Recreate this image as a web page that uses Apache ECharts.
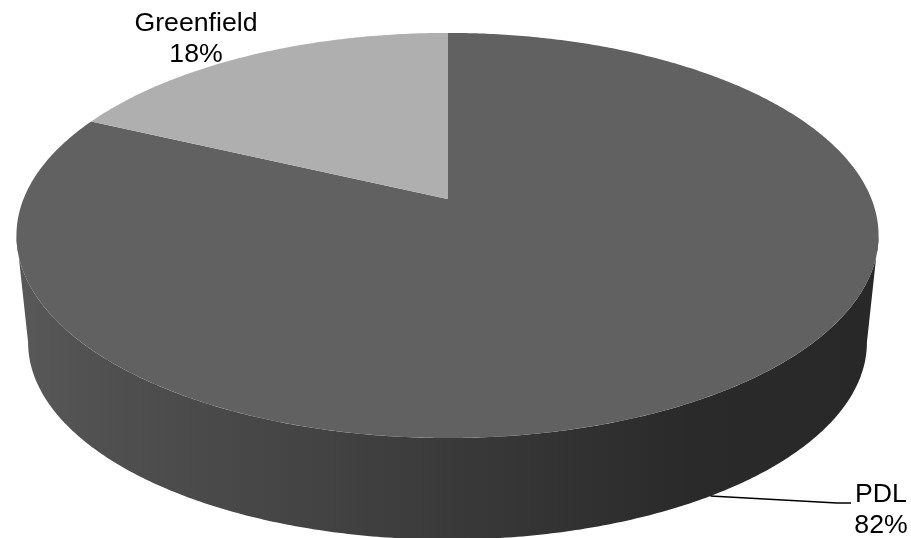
<!DOCTYPE html>
<html>
<head>
<meta charset="utf-8">
<style>html,body{margin:0;padding:0;background:#fff}#c{width:911px;height:538px}</style>
<script src="https://cdn.jsdelivr.net/npm/echarts@6/dist/echarts.min.js"></script>
</head>
<body>
<div id="c"></div>
<script>
const categories = ['PDL', 'Greenfield'];
const shares = [82, 18];
const topColors = ['#616161', '#afafaf'];

const total = shares.reduce((a, b) => a + b, 0);
const cx = 447.5, apexY = 199, A = 424, B = 196, K = 0.18;
const bottomApexY = 307, bottomScale = 0.973;
const TAU = Math.PI * 2;

// theta: clockwise from 12 o'clock, on the pie's own circle, seen in perspective
function project(theta, y0, s) {
  const u = Math.sin(theta), v = -Math.cos(theta), w = 1 - K * v;
  return [cx + s * A * u / w, y0 + s * B * v / w];
}
const rimTop = t => project(t, apexY, 1);
const rimBottom = t => project(t, bottomApexY, bottomScale);
function arc(fn, a, b) {
  const n = Math.max(2, Math.ceil(Math.abs(b - a) / 0.01)), pts = [];
  for (let i = 0; i <= n; i++) pts.push(fn(a + (b - a) * i / n));
  return pts;
}
// the rim turns out of sight where the ellipse is widest
const visFrom = Math.acos(-0.18), visTo = TAU - visFrom;
const sideFill = {
  type: 'linear', x: 16, y: 0, x2: 879, y2: 0, global: true,
  colorStops: [
    { offset: 0, color: '#595959' }, { offset: 0.1, color: '#505050' },
    { offset: 0.33, color: '#444444' }, { offset: 0.55, color: '#373737' },
    { offset: 0.78, color: '#2a2a2a' }, { offset: 1, color: '#282828' }
  ]
};
const labelFont = { fontFamily: '"Liberation Sans", Arial, sans-serif', fontSize: 26.67, fill: '#000', align: 'center', verticalAlign: 'middle', lineHeight: 31 };

function renderItem(params, api) {
  const i = params.dataIndex, val = api.value(1);
  const before = shares.slice(0, i).reduce((a, b) => a + b, 0);
  const a0 = before / total * TAU, a1 = (before + val) / total * TAU;
  const children = [];
  const f = Math.max(a0, visFrom), g = Math.min(a1, visTo);
  if (g > f) {
    children.push({
      type: 'polygon',
      shape: { points: arc(rimTop, f, g).concat(arc(rimBottom, g, f)) },
      style: { fill: sideFill }
    });
  }
  children.push({
    type: 'polygon',
    shape: { points: [[cx, apexY]].concat(arc(rimTop, a0, a1)) },
    style: { fill: topColors[i] }
  });
  const text = categories[i] + '\n' + Math.round(val / total * 100) + '%';
  if (i === 0) {
    const s = rimBottom(2.57);
    children.push({
      type: 'polyline', z2: 5,
      shape: { points: [s, [837, 503], [851, 503]] },
      style: { stroke: '#000', lineWidth: 1.5, fill: null }
    });
    children.push({ type: 'text', z2: 6, style: Object.assign({ x: 881, y: 510, text }, labelFont) });
  } else {
    children.push({ type: 'text', z2: 6, style: Object.assign({ x: 196, y: 39, text }, labelFont) });
  }
  return { type: 'group', children };
}

const chart = echarts.init(document.getElementById('c'), null, { renderer: 'canvas' });
chart.setOption({
  animation: false,
  backgroundColor: '#fff',
  series: [{
    type: 'custom',
    coordinateSystem: 'none',
    renderItem,
    clip: false,
    data: categories.map((c, i) => [c, shares[i]])
  }]
});
</script>
</body>
</html>
